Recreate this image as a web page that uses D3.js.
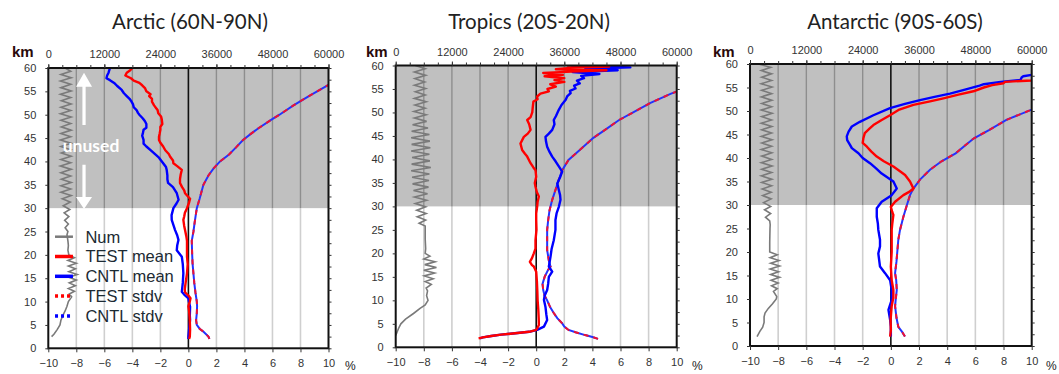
<!DOCTYPE html>
<html><head><meta charset="utf-8">
<script src="https://cdn.jsdelivr.net/npm/d3@7"></script>
<style>
html,body{margin:0;padding:0;background:#fff;}
svg text{font-family:"Liberation Sans",Arial,sans-serif;}
</style></head>
<body><svg id="c" width="1059" height="374"></svg>
<script>
// ---------------- DATA ----------------
const titles = ["Arctic (60N-90N)", "Tropics (20S-20N)", "Antarctic (90S-60S)"];
const pctTicks = [-10,-8,-6,-4,-2,0,2,4,6,8,10];
const numTicks = [0,12000,24000,36000,48000,60000];
const kmTicks = [0,5,10,15,20,25,30,35,40,45,50,55,60];
const legendLabels = ["Num","TEST mean","CNTL mean","TEST stdv","CNTL stdv"];
const unusedBelowKm = 30;

// pairs: [km, percent]
const arcticTestMean = [[60,-4.0],[59.4,-4.2],[59,-4.4],[58.4,-4.5],[57.8,-4.1],[57.3,-3.9],[56.8,-3.5],[56.3,-3.3],[55.7,-3.1],[55,-3.0],[54.4,-2.7],[54,-2.8],[53.4,-2.6],[52.8,-2.6],[52,-2.45],[51.4,-2.3],[51,-2.2],[50.3,-2.15],[49.6,-1.95],[49,-1.9],[48,-1.86],[47.4,-2.0],[46.8,-2.0],[46,-2.05],[45.3,-2.1],[44.6,-2.1],[44,-2.0],[43.2,-1.8],[42.4,-1.65],[41.6,-1.4],[41,-1.3],[40.2,-1.1],[39.6,-1.07],[39,-0.8],[38.2,-0.47],[37.2,-0.55],[36.2,-0.6],[35.4,-0.6],[34.5,-0.45],[33.8,-0.3],[33.2,-0.24],[32.4,0.0],[32,0.12],[31.2,0.05],[30,-0.1],[29,-0.25],[28.2,-0.3],[27.5,-0.36],[26.2,-0.3],[25.3,-0.24],[24,-0.15],[23,-0.1],[21,-0.1],[19.6,-0.1],[18,-0.05],[16,-0.1],[14,-0.2],[12.6,-0.26],[12,-0.24],[11.3,0.0],[10.7,0.15],[10,0.1],[9,0.0],[8,0.05],[6,0.1],[4,0.12],[2.5,0.1],[2,0.05]];
const arcticCntlMean = [[60,-5.6],[59,-5.7],[58.4,-5.8],[57.8,-5.85],[57.4,-5.6],[56.8,-5.3],[56.2,-5.1],[55.3,-4.76],[54.6,-4.6],[54,-4.4],[53.4,-4.2],[53,-4.1],[52.2,-3.95],[51.6,-3.9],[51,-3.7],[50.4,-3.6],[50,-3.5],[49.2,-3.25],[48.6,-3.1],[48,-3.0],[47.2,-3.0],[46.8,-3.2],[46,-3.25],[45.5,-3.3],[44.6,-3.2],[43.8,-3.2],[43.2,-3.0],[42.4,-2.7],[41.6,-2.4],[40.8,-2.1],[39.6,-1.8],[38.8,-1.6],[38.2,-1.55],[37,-1.5],[36.2,-1.5],[35.4,-1.45],[34.5,-1.1],[33.2,-0.83],[31.8,-0.7],[31,-0.85],[30,-1.07],[28.5,-1.2],[27.5,-1.19],[26.2,-1.05],[25.3,-0.95],[24.2,-0.8],[23.2,-0.71],[22,-0.8],[21,-0.83],[19.6,-0.47],[18,-0.4],[16.1,-0.36],[14,-0.4],[12.1,-0.47],[11.5,-0.3],[10.7,0.0],[9.8,0.05],[8.9,0.12],[7,0.1],[6.1,0.12],[4,0.05],[2.5,0.0],[2,0.0]];
const arcticTestStdv = [[2,1.5],[2.5,1.43],[3.5,1.1],[4.2,0.8],[5,0.6],[6,0.55],[7.5,0.6],[9,0.62],[10,0.6],[12,0.5],[14,0.42],[16,0.36],[18,0.3],[20,0.27],[23,0.24],[25,0.36],[27,0.45],[30,0.6],[32,0.8],[35,1.07],[37,1.43],[38.5,1.8],[40,2.26],[41.5,2.9],[43,3.4],[44.6,3.9],[46,4.5],[47.1,5.0],[48.9,5.9],[50,6.5],[52,7.5],[54,8.6],[56.4,10],[58,11]];
const arcticCntlStdv = [[2,1.5],[2.5,1.43],[3.5,1.1],[4.2,0.8],[5,0.6],[6,0.55],[7.5,0.6],[9,0.62],[10,0.6],[12,0.5],[14,0.42],[16,0.36],[18,0.3],[20,0.27],[23,0.24],[25,0.36],[27,0.45],[30,0.6],[32,0.8],[35,1.07],[37,1.43],[38.5,1.8],[40,2.26],[41.5,2.9],[43,3.4],[44.6,3.9],[46,4.5],[47.1,5.0],[48.9,5.9],[50,6.5],[52,7.5],[54,8.6],[56.4,10],[58,11]];
// pairs: [km, number of obs]
const arcticNum = [[60,3600],[59.3,4800],[58.6,2700],[57.9,4900],[57.2,2600],[56.5,4800],[55.8,2700],[55.1,4900],[54.4,2600],[53.7,4800],[53.0,2800],[52.3,4900],[51.6,2700],[50.9,4800],[50.2,2600],[49.5,4900],[48.8,2700],[48.1,4800],[47.4,2800],[46.7,4900],[46.0,2700],[45.3,4800],[44.6,2600],[43.9,4900],[43.2,2700],[42.5,4800],[41.8,2800],[41.1,4900],[40.4,2700],[39.7,4800],[39.0,2600],[38.3,4900],[37.6,2700],[36.9,4800],[36.2,2800],[35.5,4900],[34.8,2700],[34.1,4800],[33.4,2700],[32.7,4900],[32.0,3000],[31.3,4700],[30.5,3200],[29.7,4600],[29.0,3400],[28.2,4400],[27.4,3500],[26.6,4300],[25.8,3600],[25.0,4200],[24.3,4000],[23,4200],[22,4300],[21,4200],[20,4400],[19.4,5600],[18.8,4200],[18.2,6000],[17.6,4300],[17,5800],[16.4,4400],[15.8,6200],[15.2,4400],[14.6,6000],[14,4500],[13.4,5800],[12.8,4300],[12.2,5600],[11.6,4500],[11,5000],[10,4300],[9,4000],[8,3600],[7,3100],[6,2700],[5,2500],[4,1900],[3,1200],[2.5,700]];

const tropicsTestMean = [[60,2.2],[59.8,5.2],[59.5,2.4],[59.2,1.4],[59.0,5.0],[58.7,2.5],[58.4,0.5],[58.0,1.9],[57.7,0.6],[57.3,2.0],[56.9,1.3],[56.5,2.0],[56.0,1.0],[55.5,1.4],[55,0.8],[54.5,0.9],[54,0.3],[53.4,0.07],[52.8,0.1],[52.3,-0.2],[51,-0.25],[50,-0.28],[49,-0.4],[48.4,-0.64],[47.5,-0.5],[46.3,-0.4],[45.5,-0.6],[44.8,-0.88],[43.4,-1.12],[42,-1.0],[41.2,-0.8],[40.6,-0.64],[39.2,-0.4],[38.3,-0.2],[37.7,-0.05],[36.3,0.0],[35,-0.1],[34.2,-0.05],[33,0.05],[32.1,0.19],[31,0.1],[30,0.07],[28.5,0.0],[27.1,0.0],[25,0.02],[22.8,-0.05],[21,-0.05],[20,-0.17],[19,-0.3],[18.2,-0.45],[17.5,-0.3],[17.2,-0.17],[16.1,0.0],[14,0.05],[12,0.08],[10,0.1],[8,0.15],[6,0.18],[4.75,0.19],[4.2,0.1],[3.7,0.0],[3.3,-0.5],[3.0,-1.5],[2.7,-2.5],[2.4,-3.2],[2.1,-3.8],[1.9,-4.1]];
const tropicsCntlMean = [[60,2.5],[59.6,6.7],[59.3,3.5],[59.0,5.8],[58.6,2.6],[58.2,4.5],[57.8,3.2],[57.3,3.4],[56.8,2.9],[56.2,3.1],[55.7,2.7],[55.1,2.8],[54.6,2.4],[54.1,2.45],[53.4,2.2],[52.7,2.1],[51.6,1.8],[50.5,1.6],[49.2,1.4],[48.4,1.25],[47.5,1.3],[46.3,1.14],[45.5,0.9],[44.8,0.66],[43.8,0.7],[42.7,0.78],[41.6,0.95],[40.6,1.14],[39.5,1.4],[38.5,1.61],[37.4,1.85],[36.2,1.7],[34.9,1.5],[33.5,1.61],[32.4,1.7],[31.4,1.73],[29.9,1.61],[28.5,1.45],[27.1,1.37],[25,1.37],[22.8,1.25],[21,1.1],[19.3,1.02],[17.2,0.9],[16.1,1.14],[15,0.9],[13.5,0.85],[12.2,0.78],[11,0.6],[10.1,0.55],[8.6,0.66],[7,0.72],[5.8,0.78],[4.4,0.55],[3.7,0.07],[3.3,-0.5],[3.0,-1.5],[2.7,-2.5],[2.4,-3.2],[2.1,-3.8],[1.9,-4.0]];
const tropicsTestStdv = [[1.8,4.4],[2.2,4.0],[2.6,3.48],[3.2,2.8],[3.7,2.3],[4.4,2.0],[5.1,1.85],[6.2,1.5],[7.3,1.25],[8.5,1.0],[10,0.78],[11,0.6],[12.2,0.5],[13.5,0.45],[15,0.6],[16.5,0.85],[17.2,1.02],[18.5,0.9],[20.7,0.78],[22.8,0.78],[25,0.78],[27,0.85],[29.2,0.95],[31.4,1.14],[33.5,1.37],[35.6,1.6],[37.7,1.85],[39.9,2.3],[42,3.1],[44.6,4.07],[46.3,4.9],[48.4,5.9],[50,6.9],[52,8.1],[54,9.6],[55,10.5]];
const tropicsCntlStdv = [[1.8,4.4],[2.2,4.0],[2.6,3.48],[3.2,2.8],[3.7,2.3],[4.4,2.0],[5.1,1.85],[6.2,1.5],[7.3,1.25],[8.5,1.0],[10,0.78],[11,0.6],[12.2,0.5],[13.5,0.45],[15,0.6],[16.5,0.85],[17.2,1.02],[18.5,0.9],[20.7,0.78],[22.8,0.78],[25,0.78],[27,0.85],[29.2,0.95],[31.4,1.14],[33.5,1.37],[35.6,1.6],[37.7,1.85],[39.9,2.3],[42,3.1],[44.6,4.07],[46.3,4.9],[48.4,5.9],[50,6.9],[52,8.1],[54,9.6],[55,10.5]];
const tropicsNum = [[60,4200],[59.3,6300],[58.6,4000],[57.9,6400],[57.2,4100],[56.5,6200],[55.8,4000],[55.1,6400],[54.4,4200],[53.7,6300],[53.0,4000],[52.3,6500],[51.6,4100],[50.9,6300],[50.2,3900],[49.5,6500],[48.8,4000],[48.1,6600],[47.4,3600],[46.7,6900],[46.0,3400],[45.3,7200],[44.6,3300],[43.9,7300],[43.2,3400],[42.5,7400],[41.8,3300],[41.1,7200],[40.4,3500],[39.7,7300],[39.0,3400],[38.3,7500],[37.6,3300],[36.9,7200],[36.2,3500],[35.5,7100],[34.8,3600],[34.1,7000],[33.4,3800],[32.7,6800],[32.0,4000],[31.3,6600],[30.6,4200],[29.9,6400],[29.2,4500],[28.5,6500],[27.8,4600],[27.1,6400],[26.4,5000],[25.8,6300],[25,6300],[23,6300],[21,6400],[20,6300],[19.4,7300],[18.8,6000],[18.2,8400],[17.6,6200],[17,8700],[16.4,6000],[15.8,8300],[15.2,6100],[14.6,8000],[14,6300],[13.4,7600],[12.6,6500],[12,6800],[11,6600],[10,6900],[9,6300],[8.3,5200],[7.2,3800],[6,2100],[5,1100],[4,600],[3,200],[2.5,0]];

const antarcticTestMean = [[57,11.5],[56.5,10],[56.2,8.1],[55.9,8.0],[55.5,7.2],[55,6.6],[54.2,5.86],[53.5,4.8],[52.7,3.73],[52,2.7],[51.3,1.6],[50.3,0.6],[49.1,-0.06],[48.1,-0.65],[47,-1.24],[46.3,-1.5],[45.3,-1.85],[44.2,-1.95],[43.2,-2.0],[42.4,-1.7],[41.4,-1.4],[40.3,-1.0],[39.3,-0.5],[38.2,0.18],[37.3,0.6],[36.4,1.01],[35,1.36],[33.5,1.6],[32.8,1.3],[32.1,0.89],[30.7,0.3],[29.6,0.0],[28.5,0.1],[27.9,0.18],[26,0.1],[24.7,0.06],[22.6,0.06],[20,0.06],[16.9,0.0],[14,0.06],[11.9,0.18],[10.3,0.18],[8.5,0.06],[5.5,-0.02],[3.4,0.0],[2,-0.05]];
const antarcticCntlMean = [[58,11],[57.7,10],[57.4,9.4],[57.2,9.3],[56.6,9.2],[56.2,7.8],[55.7,6.6],[55.4,6.3],[54.5,5.2],[53.7,4.2],[53,3.1],[52.3,2.07],[51.5,1.0],[50.6,-0.06],[49.1,-1.24],[47.7,-2.2],[46.7,-2.77],[45.6,-3.0],[44.6,-3.13],[43.8,-3.1],[42.8,-2.9],[42.1,-2.77],[41,-2.3],[40,-2.0],[38.9,-1.48],[37.8,-1.05],[36.7,-0.65],[35,0.18],[33.5,0.42],[32.1,0.06],[30.7,-0.65],[29.3,-1.0],[27.5,-1.0],[26,-0.92],[24.7,-0.89],[22.6,-0.77],[21.2,-0.77],[19.7,-0.89],[16.9,-0.77],[15.5,-0.41],[14,-0.05],[11.9,0.06],[9.8,0.06],[7.7,-0.17],[5.5,-0.05],[4.1,0.0],[2,0.0]];
const antarcticTestStdv = [[2,1.0],[3,0.8],[4.1,0.53],[6,0.4],[8.5,0.3],[10,0.35],[11.9,0.42],[14,0.38],[15.5,0.3],[18,0.4],[22.6,0.53],[24.7,0.65],[27.5,0.89],[29.9,1.13],[32.1,1.36],[33.5,1.6],[35.4,2.07],[37.5,2.78],[39.3,3.6],[41,4.6],[43,5.4],[44.2,5.9],[46,7.0],[48.1,8.2],[50.3,10],[52,11.2]];
const antarcticCntlStdv = [[2,1.0],[3,0.8],[4.1,0.53],[6,0.4],[8.5,0.3],[10,0.35],[11.9,0.42],[14,0.38],[15.5,0.3],[18,0.4],[22.6,0.53],[24.7,0.65],[27.5,0.89],[29.9,1.13],[32.1,1.36],[33.5,1.6],[35.4,2.07],[37.5,2.78],[39.3,3.6],[41,4.6],[43,5.4],[44.2,5.9],[46,7.0],[48.1,8.2],[50.3,10],[52,11.2]];
const antarcticNum = [[60,1800],[59.3,4400],[58.6,2400],[57.9,4600],[57.2,2500],[56.5,4600],[55.8,2400],[55.1,4700],[54.4,2500],[53.7,4600],[53.0,2400],[52.3,4650],[51.6,2500],[50.9,4600],[50.2,2400],[49.5,4700],[48.8,2500],[48.1,4600],[47.4,2400],[46.7,4650],[46.0,2500],[45.3,4600],[44.6,2400],[43.9,4700],[43.2,2500],[42.5,4600],[41.8,2400],[41.1,4650],[40.4,2500],[39.7,4600],[39.0,2400],[38.3,4700],[37.6,2500],[36.9,4600],[36.2,2400],[35.5,4650],[34.8,2500],[34.1,4600],[33.4,2600],[32.7,4500],[32.0,2700],[31.3,4500],[30.5,2900],[29.7,4400],[29.0,3100],[28.2,4400],[27.4,3300],[26.6,4200],[25.8,4300],[25,4260],[22,4200],[20,4200],[19.4,5800],[18.8,4300],[18.2,6200],[17.6,4400],[17,6300],[16.4,4300],[15.8,6100],[15.2,4400],[14.6,6300],[14,4500],[13.4,6000],[12.8,4600],[12.2,5800],[11.6,5000],[10.5,5700],[10,5600],[9,4800],[8,3900],[7,3200],[6.2,3000],[5,3000],[4,2700],[3.1,2100],[2,1500]];

// -------------- LAYOUT --------------
const panels = [
  {title:titles[0], tx:190, x0:48.3, x1:328.5, yT:68, yB:348.3, kmX:12, pctX:345,
   test:arcticTestMean, cntl:arcticCntlMean, tsd:arcticTestStdv, csd:arcticCntlStdv, num:arcticNum, legend:true},
  {title:titles[1], tx:529, x0:395.7, x1:676.7, yT:65.5, yB:347.3, kmX:366, pctX:692,
   test:tropicsTestMean, cntl:tropicsCntlMean, tsd:tropicsTestStdv, csd:tropicsCntlStdv, num:tropicsNum},
  {title:titles[2], tx:895, x0:750, x1:1031.7, yT:64, yB:346, kmX:713, pctX:1046,
   test:antarcticTestMean, cntl:antarcticCntlMean, tsd:antarcticTestStdv, csd:antarcticCntlStdv, num:antarcticNum}
];

const svg = d3.select("#c");
const fontTick = 11;

panels.forEach((p,i)=>{
  const x = d3.scaleLinear().domain([-10,10]).range([p.x0,p.x1]);
  const xN = d3.scaleLinear().domain([0,60000]).range([p.x0,p.x1]);
  const y = d3.scaleLinear().domain([0,60]).range([p.yB,p.yT]);
  const g = svg.append("g");
  const cid = "clip"+i;
  svg.append("clipPath").attr("id",cid).append("rect")
     .attr("x",p.x0).attr("y",p.yT).attr("width",p.x1-p.x0).attr("height",p.yB-p.yT);

  // shaded unused region
  g.append("rect").attr("x",p.x0).attr("y",y(60)).attr("width",p.x1-p.x0)
   .attr("height",y(unusedBelowKm)-y(60)).attr("fill","#c0c0c0");

  // grid lines
  const gridV = pctTicks.filter(v=>v!==0 && v!==-10 && v!==10);
  g.selectAll(".gw").data(gridV).join("line")
   .attr("x1",d=>x(d)).attr("x2",d=>x(d)).attr("y1",y(unusedBelowKm)).attr("y2",y(0))
   .attr("stroke","#cfcfcf").attr("stroke-width",1.6);
  g.selectAll(".gg").data(gridV).join("line")
   .attr("x1",d=>x(d)).attr("x2",d=>x(d)).attr("y1",y(60)).attr("y2",y(unusedBelowKm))
   .attr("stroke","#8e8e8e").attr("stroke-width",1.4);
  g.append("line").attr("x1",x(0)).attr("x2",x(0)).attr("y1",y(60)).attr("y2",y(0))
   .attr("stroke","#111").attr("stroke-width",1.6);

  const line = d3.line().x(d=>x(d[1])).y(d=>y(d[0]));
  const lineN = d3.line().x(d=>xN(d[1])).y(d=>y(d[0]));
  const dg = g.append("g").attr("clip-path",`url(#${cid})`);
  dg.append("path").attr("d",lineN(p.num)).attr("fill","none").attr("stroke","#7a7a7a").attr("stroke-width",1.6);
  dg.append("path").attr("d",line(p.csd)).attr("fill","none").attr("stroke","#2233ff").attr("stroke-width",2);
  dg.append("path").attr("d",line(p.tsd)).attr("fill","none").attr("stroke","#ee1133").attr("stroke-width",2)
    .attr("stroke-dasharray","5,5");
  dg.append("path").attr("d",line(p.cntl)).attr("fill","none").attr("stroke","#0000ff").attr("stroke-width",2.4).attr("stroke-linejoin","round");
  dg.append("path").attr("d",line(p.test)).attr("fill","none").attr("stroke","#ff0000").attr("stroke-width",2.4).attr("stroke-linejoin","round");

  // annotation arrows + legend (Arctic)
  if(p.legend){
    const ax = x(-7.45);
    const hw = 8;
    g.append("path").attr("fill","#fff")
     .attr("d",`M${ax},${y(59)} L${ax+hw},${y(59)+14} L${ax+1.6},${y(59)+14} L${ax+1.6},${y(47.8)} L${ax-1.6},${y(47.8)} L${ax-1.6},${y(59)+14} L${ax-hw},${y(59)+14} Z`);
    g.append("path").attr("fill","#fff")
     .attr("d",`M${ax},${y(29.8)} L${ax+hw},${y(29.8)-12} L${ax+1.6},${y(29.8)-12} L${ax+1.6},${y(39.3)} L${ax-1.6},${y(39.3)} L${ax-1.6},${y(29.8)-12} L${ax-hw},${y(29.8)-12} Z`);
    g.append("text").attr("x",x(-6.95)).attr("y",y(43.3)+6).attr("text-anchor","middle")
     .style("font-family","Lato, 'Open Sans', sans-serif").attr("font-weight","bold")
     .attr("font-size",17.5).attr("fill","#fff").text("unused");

    const styles = [
      {c:"#7a7a7a",w:2.5,da:null},{c:"#ff0000",w:3.5,da:null},{c:"#0000ff",w:3.5,da:null},
      {c:"#ff0000",w:3.5,da:"3,3"},{c:"#0000ff",w:3.5,da:"3,3"}];
    const ly0 = 236.7, lstep = 19.8;
    legendLabels.forEach((lab,k)=>{
      const yy = ly0 + k*lstep;
      const l = g.append("line").attr("x1",x(-9.52)).attr("x2",x(-8.24)).attr("y1",yy).attr("y2",yy)
        .attr("stroke",styles[k].c).attr("stroke-width",styles[k].w);
      if(styles[k].da) l.attr("stroke-dasharray",styles[k].da);
      g.append("text").attr("x",x(-7.35)).attr("y",yy+5.8).attr("font-size",16.5)
        .attr("fill","#1c2a33").text(lab);
    });
  }

  // frame
  g.append("rect").attr("x",p.x0).attr("y",p.yT).attr("width",p.x1-p.x0).attr("height",p.yB-p.yT)
   .attr("fill","none").attr("stroke","#111").attr("stroke-width",2);

  // axes
  const styleAxis = sel=>{
    sel.select(".domain").remove();
    sel.selectAll("line").attr("stroke","#333");
    sel.selectAll("text").attr("font-size",fontTick).attr("fill","#333")
      .style("font-family","'Liberation Sans', Arial, sans-serif");
  };
  g.append("g").attr("transform",`translate(0,${p.yB})`)
   .call(d3.axisBottom(x).tickValues(pctTicks).tickSize(4).tickPadding(7)).call(styleAxis);
  g.append("g").attr("transform",`translate(0,${p.yT})`)
   .call(d3.axisTop(xN).tickValues(numTicks).tickFormat(d3.format("d")).tickSize(4).tickPadding(6)).call(styleAxis);
  g.append("g").attr("transform",`translate(${p.x0},0)`)
   .call(d3.axisLeft(y).tickValues(kmTicks).tickSize(3).tickPadding(9)).call(styleAxis);
  g.append("g").attr("transform",`translate(${p.x1},0)`)
   .call(d3.axisRight(y).tickValues(d3.range(0,60.1,2.5)).tickSize(3).tickFormat("")).call(styleAxis);
  g.append("g").attr("transform",`translate(0,${p.yT})`)
   .call(d3.axisTop(x).tickValues(d3.range(-10,10.1,1)).tickSize(3).tickFormat("")).call(styleAxis);

  // labels
  g.append("text").attr("x",p.tx).attr("y",29).attr("text-anchor","middle")
   .style("font-family","Lato, 'Open Sans', sans-serif").attr("font-size",20.5).attr("fill","#222")
   .text(p.title);
  g.append("text").attr("x",p.kmX).attr("y",57).attr("font-size",15).attr("font-weight","bold")
   .attr("fill","#2a0a0a").text("km");
  g.append("text").attr("x",p.pctX).attr("y",370).attr("font-size",12).attr("fill","#222").text("%");
});
</script></body></html>
